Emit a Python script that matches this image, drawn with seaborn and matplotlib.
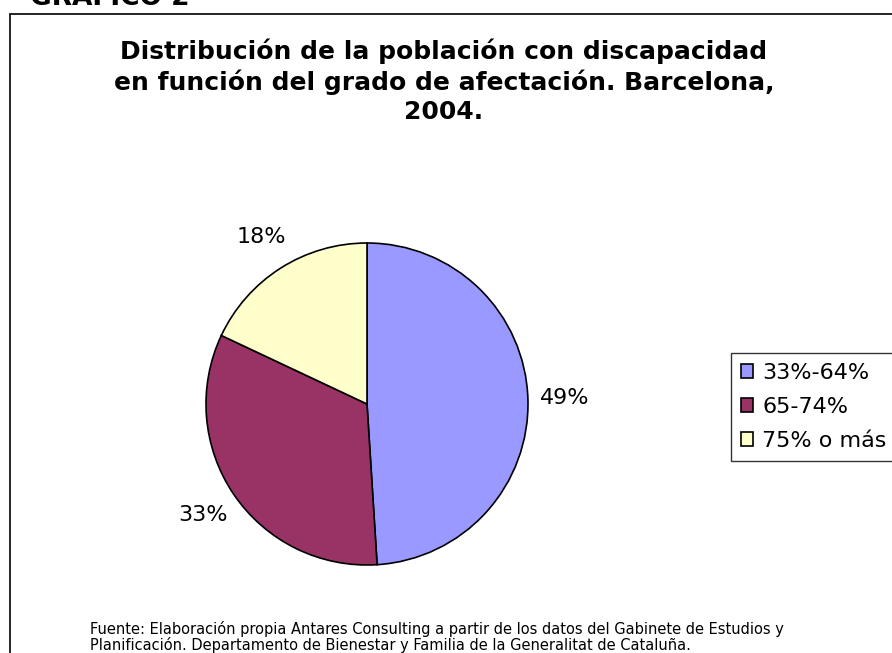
import matplotlib
matplotlib.use("Agg")
import matplotlib.pyplot as plt
import seaborn as sns
from matplotlib.patches import Rectangle

# data
categories = ["33%-64%", "65-74%", "75% o más"]
shares = [49, 33, 18]
colors = ["#9999FF", "#993366", "#FFFFCC"]

title = ("Distribución de la población con discapacidad\n"
         "en función del grado de afectación. Barcelona,\n2004.")
source = ("Fuente: Elaboración propia Antares Consulting a partir de los datos del Gabinete de Estudios y\n"
          "Planificación. Departamento de Bienestar y Familia de la Generalitat de Cataluña.")

sns.set_style("white")
plt.rcParams['font.family'] = ['DejaVu Sans']
plt.rcParams['text.color'] = 'black'

W, H = 892, 653
fig = plt.figure(figsize=(W / 100, H / 100), dpi=100)

# outer frame (extends past the right/bottom edge)
fig.patches.append(Rectangle((10 / W, -0.05), 1.0, 1 - 14 / H + 0.05,
                             transform=fig.transFigure, fill=False,
                             edgecolor="black", linewidth=1.2))

fig.text(30 / W, 1 - 5 / H, "GRAFICO 2", fontsize=19, fontweight="bold",
         ha="left", va="baseline")

fig.text(444 / W, 1 - 38 / H, title, fontsize=18, fontweight="bold",
         ha="center", va="top", linespacing=1.28)

cx, cy, r = 367, 404, 161
ax = fig.add_axes([(cx - r) / W, (H - cy - r) / H, 2 * r / W, 2 * r / H])
wedges, texts, autotexts = ax.pie(
    shares, colors=colors, startangle=90, counterclock=False,
    autopct="%d%%", pctdistance=1.23,
    wedgeprops=dict(edgecolor="black", linewidth=1.2),
    textprops=dict(fontsize=16, color="black"))
ax.set_xlim(-1, 1)
ax.set_ylim(-1, 1)
ax.set_aspect("equal")
ax.axis("off")

leg = fig.legend(wedges, categories, loc="upper left",
                 bbox_to_anchor=(731 / W, 1 - 353 / H), fontsize=16,
                 frameon=True, fancybox=False, edgecolor="black",
                 handlelength=0.55, handleheight=0.55, handletextpad=0.4,
                 labelspacing=0.63, borderpad=0.45, borderaxespad=0)
leg.get_frame().set_linewidth(1.0)

fig.text(90 / W, 1 - 621 / H, source, fontsize=10.5, ha="left", va="top",
         linespacing=1.0)

fig.savefig("out.png", dpi=100)
